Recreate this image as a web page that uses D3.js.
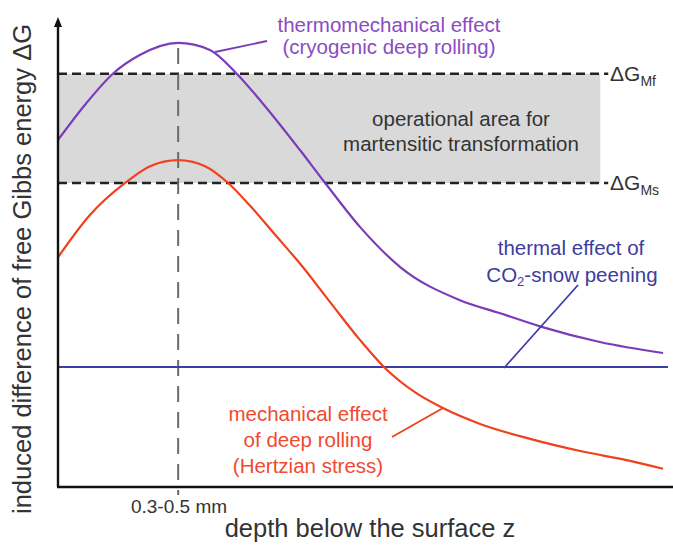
<!DOCTYPE html>
<html><head><meta charset="utf-8">
<script src="https://cdn.jsdelivr.net/npm/d3@7"></script>
<style>
html,body{margin:0;padding:0;background:#fff;}
text{font-family:"Liberation Sans",Arial,sans-serif;}
</style></head>
<body>
<svg id="chart" width="673" height="548"></svg>
<script>
// depth (arbitrary units, 0..10) and induced ΔG (arbitrary units, 0..10)
const mechDepth = [0, 0.52, 1.1, 1.51, 1.97, 2.41, 2.79, 3.15, 3.56, 3.97, 4.46, 4.95, 5.36, 5.85, 6.31, 6.92, 7.74, 8.56, 9.38, 9.92];
const mechDG    = [4.92, 5.82, 6.51, 6.87, 7.0, 6.87, 6.51, 6.02, 5.4, 4.78, 3.96, 3.15, 2.55, 2.03, 1.69, 1.35, 1.03, 0.77, 0.56, 0.39];
const thermoDepth = [0, 0.44, 0.9, 1.34, 1.97, 2.49, 2.93, 3.34, 3.97, 4.38, 4.95, 5.61, 6.59, 7.25, 7.9, 8.9, 9.92];
const thermoDG    = [7.43, 8.18, 8.85, 9.25, 9.51, 9.36, 8.85, 8.24, 7.21, 6.51, 5.57, 4.71, 4.0, 3.72, 3.44, 3.1, 2.87];
const thermalDepth = [0, 10];
const thermalDG    = [2.57, 2.57];
const dGMf = 8.85, dGMs = 6.51;
const zoneEnd = 8.89, levelLineEnd = 9.02;
const peakBand = 1.97;
const peakLabel = "0.3-0.5 mm";
const xLabel = "depth below the surface z";
const yLabel = "induced difference of free Gibbs energy \u0394G";

const svg = d3.select("#chart");
const x = d3.scaleLinear().domain([0, 10]).range([58, 668]);
const y = d3.scaleLinear().domain([0, 10]).range([487, 20]);

// operational area
svg.append("rect").attr("x", x(0)).attr("y", y(dGMf))
  .attr("width", x(zoneEnd) - x(0)).attr("height", y(dGMs) - y(dGMf))
  .attr("fill", "#d9d9d9");
[dGMf, dGMs].forEach(v => {
  svg.append("line").attr("x1", x(0)).attr("x2", x(levelLineEnd))
    .attr("y1", y(v)).attr("y2", y(v))
    .attr("stroke", "#222").attr("stroke-width", 2.6).attr("stroke-dasharray", "9,5");
});
// zone text
svg.append("text").attr("x", 461).attr("y", 126).attr("text-anchor", "middle")
  .attr("font-size", 20.5).attr("fill", "#333").text("operational area for");
svg.append("text").attr("x", 461).attr("y", 151).attr("text-anchor", "middle")
  .attr("font-size", 20.5).attr("fill", "#333").text("martensitic transformation");

// ΔG labels
function dgLabel(v, sub) {
  const t = svg.append("text").attr("x", 610).attr("y", y(v) + 7).attr("font-size", 21).attr("fill", "#333");
  t.append("tspan").text("\u0394G");
  t.append("tspan").attr("dy", 5).attr("font-size", 14).text(sub);
}
dgLabel(dGMf, "Mf");
dgLabel(dGMs, "Ms");

// vertical dashed line at peak
svg.append("line").attr("x1", x(peakBand)).attr("x2", x(peakBand))
  .attr("y1", 48).attr("y2", 495)
  .attr("stroke", "#6a6a6a").attr("stroke-width", 2).attr("stroke-dasharray", "16,10");

const line = d3.line().x(d => x(d[0])).y(d => y(d[1])).curve(d3.curveMonotoneX);

// thermal (blue)
svg.append("path").datum(d3.zip(thermalDepth, thermalDG)).attr("d", d3.line().x(d => x(d[0])).y(d => y(d[1])))
  .attr("fill", "none").attr("stroke", "#3d3da8").attr("stroke-width", 2.2);
// mechanical (red)
svg.append("path").datum(d3.zip(mechDepth, mechDG)).attr("d", line)
  .attr("fill", "none").attr("stroke", "#f0401e").attr("stroke-width", 2.2);
// thermomechanical (purple)
svg.append("path").datum(d3.zip(thermoDepth, thermoDG)).attr("d", line)
  .attr("fill", "none").attr("stroke", "#7a3cb8").attr("stroke-width", 2.2);

// axes
svg.append("line").attr("x1", x(0)).attr("x2", x(0)).attr("y1", 487).attr("y2", 24)
  .attr("stroke", "#111").attr("stroke-width", 2.4);
svg.append("line").attr("x1", 57).attr("x2", 673).attr("y1", 487).attr("y2", 487)
  .attr("stroke", "#111").attr("stroke-width", 2.4);
svg.append("path").attr("d", "M58,17 L54,27 L62,27 Z").attr("fill", "#111");

// leader lines
svg.append("line").attr("x1", 215).attr("y1", 52).attr("x2", 267).attr("y2", 41)
  .attr("stroke", "#7a3cb8").attr("stroke-width", 1.8);
svg.append("line").attr("x1", 504).attr("y1", 368).attr("x2", 578).attr("y2", 285)
  .attr("stroke", "#3d3da8").attr("stroke-width", 1.8);
svg.append("line").attr("x1", 443).attr("y1", 408).attr("x2", 392).attr("y2", 437)
  .attr("stroke", "#f0401e").attr("stroke-width", 1.8);

// series labels
function multi(lines, cx, y0, dy, color, size) {
  lines.forEach((s, i) => {
    svg.append("text").attr("x", cx).attr("y", y0 + i * dy).attr("text-anchor", "middle")
      .attr("font-size", size).attr("fill", color).text(s);
  });
}
multi(["thermomechanical effect", "(cryogenic deep rolling)"], 389, 32, 22, "#8a4cc2", 20.5);
svg.append("text").attr("x", 571).attr("y", 255).attr("text-anchor", "middle").attr("font-size", 20.5).attr("fill", "#3d3d9c").text("thermal effect of");
const t2 = svg.append("text").attr("x", 572).attr("y", 282).attr("text-anchor", "middle").attr("font-size", 20.5).attr("fill", "#3d3d9c");
t2.append("tspan").text("CO");
t2.append("tspan").attr("font-size", 13).attr("dy", 4).text("2");
t2.append("tspan").attr("dy", -4).text("-snow peening");
multi(["mechanical effect", "of deep rolling", "(Hertzian stress)"], 308, 421, 26, "#f04a30", 20.5);

// axis labels
svg.append("text").attr("x", 179).attr("y", 513).attr("text-anchor", "middle")
  .attr("font-size", 19).attr("fill", "#333").text(peakLabel);
svg.append("text").attr("x", 370).attr("y", 537).attr("text-anchor", "middle")
  .attr("font-size", 25.5).attr("fill", "#333").text(xLabel);
svg.append("text").attr("transform", "translate(31,269) rotate(-90)").attr("text-anchor", "middle")
  .attr("font-size", 25.5).attr("fill", "#333").text(yLabel);
</script>
</body></html>
